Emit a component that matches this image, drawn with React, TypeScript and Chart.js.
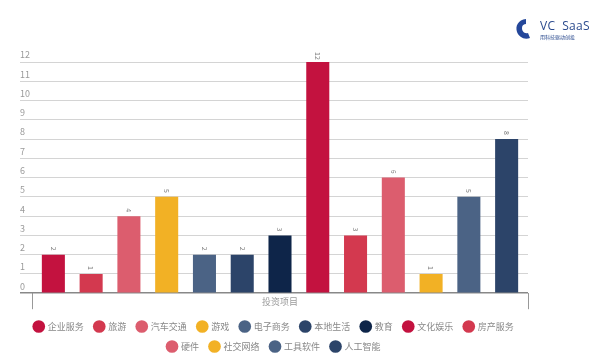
import React, { useEffect, useRef } from "react";
import { Chart, registerables } from "chart.js";

Chart.register(...registerables);

const categories = ["投资项目"];
const seriesNames = [
  "企业服务", "旅游", "汽车交通", "游戏", "电子商务", "本地生活", "教育",
  "文化娱乐", "房产服务", "硬件", "社交网络", "工具软件", "人工智能",
];
const seriesValues = [2, 1, 4, 5, 2, 2, 3, 12, 3, 6, 1, 5, 8];
const seriesColors = [
  "#c3123f", "#d3394f", "#dc5d6e", "#f2b125", "#4b6385", "#2c4469", "#0e2549",
  "#c3123f", "#d3394f", "#dc5d6e", "#f2b125", "#4b6385", "#2c4469",
];
const yTicks = [0, 1, 2, 3, 4, 5, 6, 7, 8, 9, 10, 11, 12];

const FONT = "'Noto Sans CJK SC', 'Noto Sans', sans-serif";

const yLabelPlugin = {
  id: "yLabels",
  afterDraw(chart: any) {
    const { ctx, scales } = chart;
    const y = scales.y;
    ctx.save();
    ctx.fillStyle = "#9a9a9a";
    ctx.font = `9px ${FONT}`;
    ctx.textAlign = "left";
    ctx.textBaseline = "middle";
    yTicks.forEach((v) => {
      ctx.fillText(String(v), chart.chartArea.left - 12, y.getPixelForValue(v) - 7);
    });
    ctx.restore();
  },
};

const valueLabelPlugin = {
  id: "valueLabels",
  afterDatasetsDraw(chart: any) {
    const { ctx } = chart;
    ctx.save();
    ctx.fillStyle = "#808080";
    ctx.font = `7px ${FONT}`;
    ctx.textAlign = "center";
    ctx.textBaseline = "middle";
    chart.data.datasets.forEach((ds: any, i: number) => {
      const meta = chart.getDatasetMeta(i);
      meta.data.forEach((bar: any, j: number) => {
        ctx.save();
        ctx.translate(bar.x, bar.y - 6);
        ctx.rotate(Math.PI / 2);
        ctx.fillText(String(ds.data[j]), 0, 0);
        ctx.restore();
      });
    });
    ctx.restore();
  },
};

export default function App() {
  const ref = useRef<HTMLCanvasElement>(null);
  useEffect(() => {
    document.body.style.margin = "0";
    const chart = new Chart(ref.current!, {
      type: "bar",
      data: {
        labels: categories,
        datasets: seriesNames.map((name, i) => ({
          label: name,
          data: [seriesValues[i]],
          backgroundColor: seriesColors[i],
          borderWidth: 0,
          categoryPercentage: 0.99,
          barPercentage: 0.61,
        })),
      },
      options: {
        responsive: false,
        animation: false,
        layout: { padding: { top: 62, left: 20, right: 72, bottom: 3 } },
        plugins: {
          tooltip: { enabled: false },
          legend: {
            position: "bottom",
            labels: {
              usePointStyle: true,
              pointStyle: "circle",
              boxWidth: 10,
              boxHeight: 10,
              padding: 11,
              color: "#888",
              font: { size: 9, family: FONT },
            },
          },
        },
        scales: {
          x: {
            grid: { drawOnChartArea: false, tickLength: 16, color: "#999", offset: true },
            border: { display: false },
            ticks: { display: false },
            title: {
              display: true,
              text: categories[0],
              color: "#999",
              font: { size: 9, family: FONT },
              padding: { top: -13, bottom: 4 },
            },
          },
          y: {
            min: 0,
            max: 12,
            ticks: { display: false, stepSize: 1 },
            grid: {
              color: (c: any) => (c.tick && c.tick.value === 0 ? "#888" : "#d4d4d4"),
              lineWidth: (c: any) => (c.tick && c.tick.value === 0 ? 1.5 : 1),
              tickLength: 12,
            },
            border: { display: false },
          },
        },
      },
      plugins: [yLabelPlugin, valueLabelPlugin],
    });
    return () => chart.destroy();
  }, []);

  return (
    <div style={{ position: "relative", width: 600, height: 364, background: "#fff" }}>
      <canvas ref={ref} width={600} height={364} />
      <div style={{ position: "absolute", left: 512, top: 16, display: "flex", alignItems: "center" }}>
        <svg width="22" height="26" viewBox="0 0 22 26">
          <path d="M14 3 C6 4 3 10 5 16 C7 21 12 24 18 22 L16 17 C12 18 10 15 10 12 C10 9 12 8 14 8 Z" fill="#24479a" />
        </svg>
        <div style={{ marginLeft: 6, lineHeight: 1 }}>
          <div style={{ fontFamily: "'Open Sans', sans-serif", fontSize: 12, color: "#2a4a8e", letterSpacing: 0.3 }}>VC&nbsp;&nbsp;SaaS</div>
          <div style={{ fontFamily: FONT, fontSize: 5, color: "#2a4a8e", marginTop: 2 }}>用科技驱动创投</div>
        </div>
      </div>
    </div>
  );
}
